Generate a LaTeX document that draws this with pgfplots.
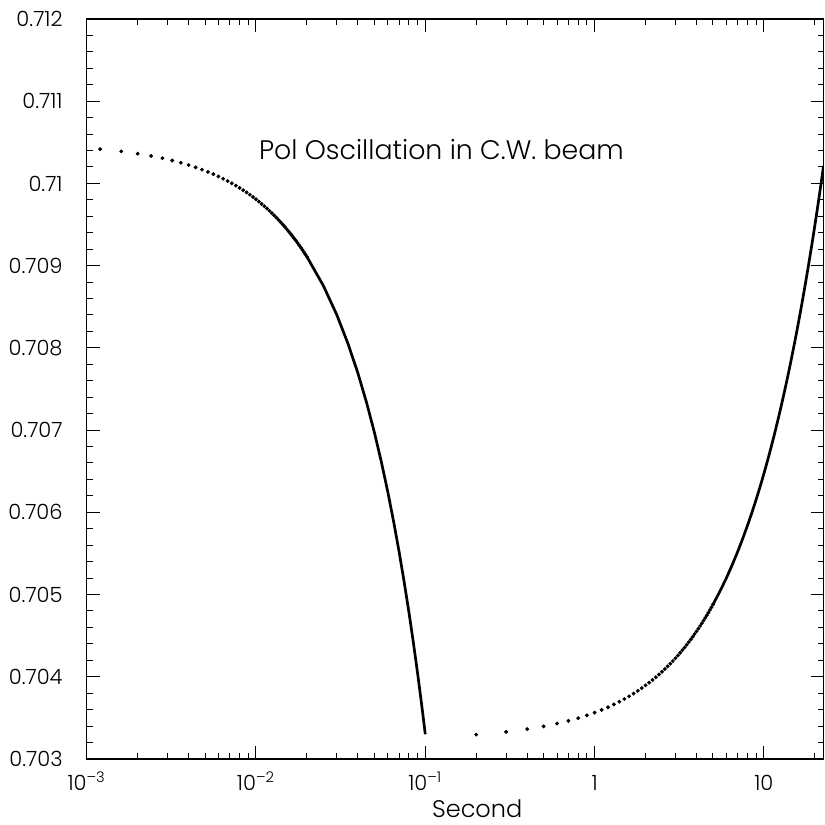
\documentclass[border=0pt]{standalone}
\usepackage{fontspec}
\setmainfont{Poppins}[UprightFont=* Light]
\usepackage{pgfplots}
\pgfplotsset{compat=1.18}
\begin{document}
\begin{tikzpicture}
\begin{axis}[
  name=ax,
  scale only axis,
  width=368.4pt, height=370pt,
  xmode=log,
  xmin=0.001, xmax=22.5,
  ymin=0.703, ymax=0.712,
  axis line style={line width=0.7pt},
  tick style={line width=0.5pt, black},
  tick align=inside,
  tick pos=both,
  major tick length=6.5pt,
  minor tick length=3pt,
  xtick={0.001,0.01,0.1,1,10},
  xticklabels={10\textsuperscript{–3},10\textsuperscript{–2},10\textsuperscript{–1},1,10},
  minor xtick={0.002,0.003,0.004,0.005,0.006,0.007,0.008,0.009,0.02,0.03,0.04,0.05,0.06,0.07,0.08,0.09,0.2,0.3,0.4,0.5,0.6,0.7,0.8,0.9,2,3,4,5,6,7,8,9,20},
  ytick={0.703,0.704,0.705,0.706,0.707,0.708,0.709,0.710,0.711,0.712},
  yticklabels={0.703,0.704,0.705,0.706,0.707,0.708,0.709,0.71,0.711,0.712},
  minor y tick num=4,
  tick label style={font=\fontsize{10.5}{12}\selectfont},
  yticklabel style={anchor=east, inner sep=0pt, xshift=-11.85pt},
  xticklabel style={anchor=base, yshift=-15.5pt},
  xlabel={Second},
  xlabel style={at={(axis description cs:0.530,0)}, anchor=base, yshift=-29pt, font=\fontsize{12}{14}\selectfont},
]
% left branch, sparse points
\addplot[only marks, mark=*, mark size=0.75pt, black] coordinates {
(0.0012,0.710417)(0.0016,0.710390)(0.0020,0.710362)(0.0024,0.710334)(0.0028,0.710307)
(0.0032,0.710279)(0.0036,0.710251)(0.0040,0.710224)(0.0044,0.710196)(0.0048,0.710168)
(0.0052,0.710140)(0.0056,0.710113)(0.0060,0.710085)(0.0064,0.710057)(0.0068,0.710029)
(0.0072,0.710002)(0.0076,0.709974)(0.0080,0.709946)(0.0084,0.709918)(0.0088,0.709891)
(0.0092,0.709863)(0.0096,0.709835)(0.0100,0.709807)(0.0104,0.709779)(0.0108,0.709751)
(0.0112,0.709723)(0.0116,0.709696)(0.0120,0.709668)(0.0124,0.709640)(0.0128,0.709612)
(0.0132,0.709584)(0.0136,0.709556)(0.0140,0.709528)(0.0144,0.709500)(0.0148,0.709472)
(0.0152,0.709444)(0.0156,0.709416)(0.0160,0.709388)(0.0164,0.709360)(0.0168,0.709332)
(0.0172,0.709304)(0.0176,0.709276)(0.0180,0.709248)(0.0184,0.709220)(0.0188,0.709192)
(0.0192,0.709164)(0.0196,0.709136)(0.0200,0.709108)
};
% left branch, dense part
\addplot[no marks, line width=1.35pt, black] coordinates {
(0.020,0.709108)(0.025,0.708756)(0.030,0.708403)(0.035,0.708048)(0.040,0.707692)
(0.045,0.707334)(0.050,0.706975)(0.055,0.706614)(0.060,0.706252)(0.065,0.705888)
(0.070,0.705523)(0.075,0.705156)(0.080,0.704788)(0.085,0.704418)(0.090,0.704047)
(0.095,0.703674)(0.100,0.703300)
};
% right branch, sparse points
\addplot[only marks, mark=*, mark size=0.75pt, black] coordinates {
(0.2,0.703297)(0.3,0.703330)(0.4,0.703364)(0.5,0.703397)(0.6,0.703431)
(0.7,0.703464)(0.8,0.703497)(0.9,0.703531)(1.0,0.703564)(1.1,0.703597)
(1.2,0.703630)(1.3,0.703664)(1.4,0.703697)(1.5,0.703730)(1.6,0.703763)
(1.7,0.703796)(1.8,0.703829)(1.9,0.703863)(2.0,0.703896)(2.1,0.703929)
(2.2,0.703962)(2.3,0.703995)(2.4,0.704028)(2.5,0.704061)(2.6,0.704094)
(2.7,0.704127)(2.8,0.704159)(2.9,0.704192)(3.0,0.704225)(3.1,0.704258)
(3.2,0.704291)(3.3,0.704324)(3.4,0.704356)(3.5,0.704389)(3.6,0.704422)
(3.7,0.704454)(3.8,0.704487)(3.9,0.704520)(4.0,0.704552)(4.1,0.704585)
(4.2,0.704618)(4.3,0.704650)(4.4,0.704683)(4.5,0.704715)(4.6,0.704748)
(4.7,0.704780)(4.8,0.704813)(4.9,0.704845)(5.0,0.704878)
};
% right branch, dense part
\addplot[no marks, line width=1.35pt, black] coordinates {
(5.0,0.704878)(5.5,0.705039)(6.0,0.705200)(6.5,0.705361)(7.0,0.705521)
(7.5,0.705681)(8.0,0.705840)(8.5,0.705998)(9.0,0.706156)(9.5,0.706313)
(10.0,0.706470)(10.5,0.706626)(11.0,0.706782)(11.5,0.706937)(12.0,0.707092)
(12.5,0.707246)(13.0,0.707399)(13.5,0.707552)(14.0,0.707704)(14.5,0.707856)
(15.0,0.708008)(15.5,0.708158)(16.0,0.708308)(16.5,0.708458)(17.0,0.708607)
(17.5,0.708756)(18.0,0.708904)(18.5,0.709051)(19.0,0.709198)(19.5,0.709344)
(20.0,0.709490)(20.5,0.709635)(21.0,0.709780)(21.5,0.709924)(22.0,0.710068)
(22.5,0.710211)
};
\node[anchor=base, font=\fontsize{13.4}{15}\selectfont] at (axis description cs:0.4815,0.8095) {Pol Oscillation in C.W. beam};
\end{axis}
\pgfresetboundingbox
\path ([shift={(-43.35pt,-33pt)}]ax.south west) rectangle ([shift={(0.25pt,9.5pt)}]ax.north east);
\end{tikzpicture}
\end{document}
